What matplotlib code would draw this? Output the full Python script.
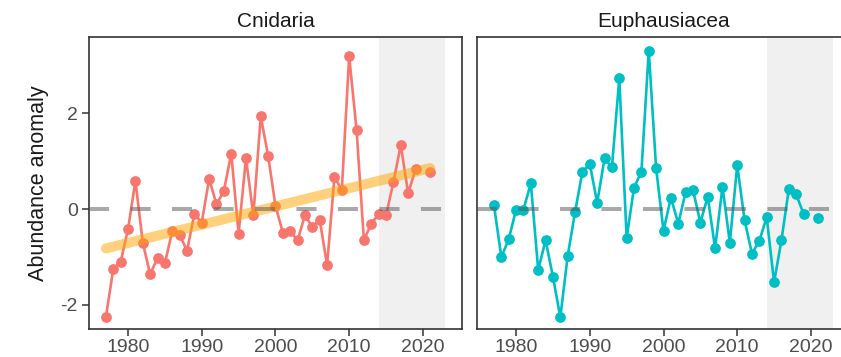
import numpy as np
import matplotlib
matplotlib.use("Agg")
import matplotlib.pyplot as plt

plt.rcParams['font.family'] = ['Liberation Sans', 'DejaVu Sans']
plt.rcParams['axes.unicode_minus'] = False

years = list(range(1977, 2022))

# abundance anomalies per year (2020 not sampled)
cnidaria = [-2.25, -1.25, -1.10, -0.42, 0.59, -0.70, -1.36, -1.02, -1.13, -0.46,
            -0.54, -0.87, -0.10, -0.28, 0.63, 0.10, 0.38, 1.16, -0.51, 1.07,
            -0.13, 1.94, 1.12, 0.07, -0.49, -0.46, -0.65, -0.13, -0.37, -0.22,
            -1.17, 0.67, 0.40, 3.19, 1.66, -0.65, -0.30, -0.11, -0.13, 0.56,
            1.34, 0.33, 0.83, np.nan, 0.78]
euphausiacea = [0.08, -1.00, -0.63, -0.01, -0.01, 0.54, -1.27, -0.65, -1.41, -2.26,
                -0.98, -0.06, 0.78, 0.95, 0.13, 1.06, 0.87, 2.73, -0.60, 0.45,
                0.78, 3.31, 0.85, -0.45, 0.24, -0.30, 0.35, 0.40, -0.28, 0.26,
                -0.82, 0.47, -0.70, 0.92, -0.23, -0.93, -0.66, -0.17, -1.53, -0.65,
                0.42, 0.31, -0.10, np.nan, -0.19]

taxa = ["Cnidaria", "Euphausiacea"]
colors = ["#F8766D", "#00BFC4"]
recent_period = (2014, 2023)
x_ticks = [1980, 1990, 2000, 2010, 2020]
y_ticks = [-2, 0, 2]

fig = plt.figure(figsize=(8.41, 3.57), dpi=100)
ax1 = fig.add_axes([0.1058, 0.0776, 0.4435, 0.8193])
ax2 = fig.add_axes([0.5672, 0.0776, 0.4435, 0.8193])

for ax, name, vals, col in zip([ax1, ax2], taxa, [cnidaria, euphausiacea], colors):
    vals = np.array(vals)
    ax.axvspan(recent_period[0], recent_period[1], color="#F0F0F0", lw=0, zorder=0)
    ax.plot(years, vals, color=col, lw=1.9, marker="o", ms=6.7, zorder=2)

    if name == "Cnidaria":
        # linear trend over the whole series
        ok = ~np.isnan(vals)
        yr = np.array(years)[ok]
        k, b = np.polyfit(yr, vals[ok], 1)
        ax.plot([yr[0], yr[-1]], [k * yr[0] + b, k * yr[-1] + b], color="orange",
                alpha=0.5, lw=7.2, solid_capstyle="round", zorder=3)

    ax.axhline(0, color="#555555", alpha=0.5, lw=2.9, ls=(0, (5, 5.3)), zorder=4)

    ax.set_xlim(1974.7, 2025.3)
    ax.set_ylim(-2.51, 3.60)
    ax.set_xticks(x_ticks)
    ax.set_yticks(y_ticks)
    ax.set_title(name, fontsize=15, color="#1A1A1A", pad=7)
    for s in ax.spines.values():
        s.set_color("#333333")
        s.set_linewidth(1.2)
    ax.tick_params(length=5, width=1.1, color="#333333", labelsize=14,
                   labelcolor="#4D4D4D", pad=3)
    ax.tick_params(axis="x", pad=2)

ax1.set_ylabel("Abundance anomaly", fontsize=15.5, color="#1A1A1A", labelpad=8)
ax2.tick_params(left=False, labelleft=False)

fig.savefig("out.png", dpi=100)
